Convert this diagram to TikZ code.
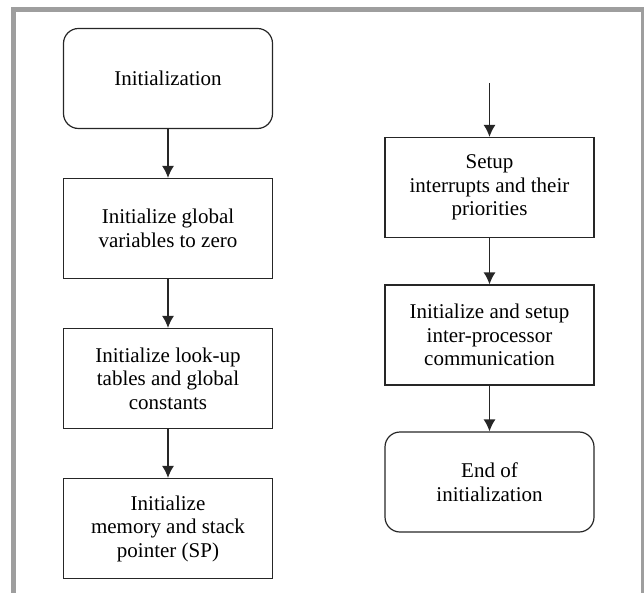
\documentclass[tikz,border=0pt]{standalone}
\usepackage{fontspec}
\setmainfont{Liberation Serif}
\usetikzlibrary{arrows.meta}
\tikzset{>={Latex[length=12pt, width=12pt]},
    stepbox/.style={draw=black!85, line width=1.2pt, minimum width=209pt, minimum height=100pt,
        inner sep=0pt, align=center, font=\fontsize{21}{23.5}\selectfont},
    terminal/.style={stepbox, rounded corners=15pt},
    flow/.style={->, line width=1.3pt, draw=black!85}}

\begin{document}
\begin{tikzpicture}[x=1pt, y=-1pt]
    \useasboundingbox (0, 0) rectangle (644, 593);
    \draw[line width=5pt, draw=black!38] (13.5, 593) |- (643, 9.5) -- (643, 593);
    % left column
    \node[terminal] at (168, 78.5) (init) {Initialization};
    \node[stepbox] at (168, 228.5) (globals) {Initialize global\\variables to zero};
    \node[stepbox] at (168, 378.5) (tables) {Initialize look-up\\tables and global\\constants};
    \node[stepbox] at (168, 528.5) (stack) {Initialize\\memory and stack\\pointer (SP)};
    % right column
    \coordinate (entry) at (489.5, 83);
    \node[stepbox] at (489.5, 187.5) (irq) {Setup\\interrupts and their\\priorities};
    \node[stepbox] at (489.5, 335) (ipc) {Initialize and setup\\inter-processor\\communication};
    \node[terminal] at (489.5, 482) (done) {End of\\initialization};
    \draw[flow] (init) -- (globals);
    \draw[flow] (globals) -- (tables);
    \draw[flow] (tables) -- (stack);
    \draw[flow] (entry) -- (irq);
    \draw[flow] (irq) -- (ipc);
    \draw[flow] (ipc) -- (done);
\end{tikzpicture}
\end{document}
